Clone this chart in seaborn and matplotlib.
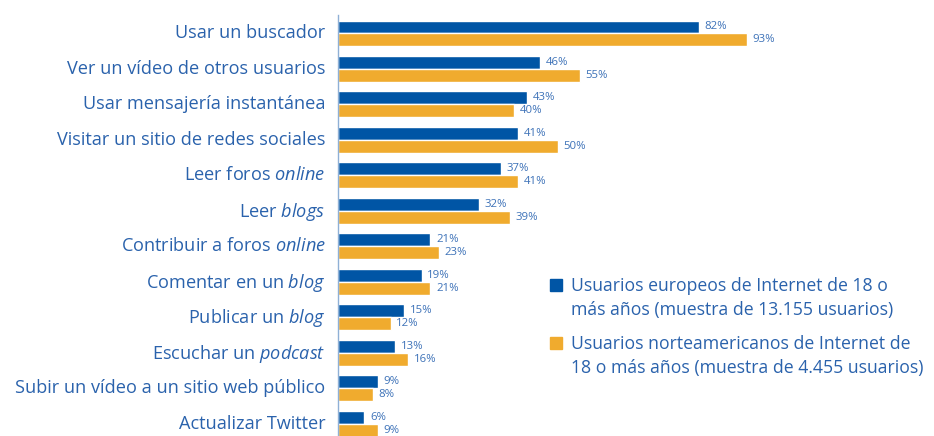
import pandas as pd
import matplotlib.pyplot as plt
import matplotlib.transforms as mtransforms
import seaborn as sns
from matplotlib.patches import Rectangle

# datos
actividades = [
    "Usar un buscador",
    "Ver un vídeo de otros usuarios",
    "Usar mensajería instantánea",
    "Visitar un sitio de redes sociales",
    "Leer foros $\\mathit{online}$",
    "Leer $\\mathit{blogs}$",
    "Contribuir a foros $\\mathit{online}$",
    "Comentar en un $\\mathit{blog}$",
    "Publicar un $\\mathit{blog}$",
    "Escuchar un $\\mathit{podcast}$",
    "Subir un vídeo a un sitio web público",
    "Actualizar Twitter",
]
europa = [82, 46, 43, 41, 37, 32, 21, 19, 15, 13, 9, 6]
norteamerica = [93, 55, 40, 50, 41, 39, 23, 21, 12, 16, 8, 9]
series = [
    "Usuarios europeos de Internet de 18 o\nmás años (muestra de 13.155 usuarios)",
    "Usuarios norteamericanos de Internet de\n18 o más años (muestra de 4.455 usuarios)",
]

df = pd.DataFrame({
    "actividad": actividades * 2,
    "valor": europa + norteamerica,
    "serie": [series[0]] * len(europa) + [series[1]] * len(norteamerica),
})

azul = "#0055A5"
naranja = "#F0AB2E"
texto = "#2A62AC"
colores = [azul, naranja]

sns.set_style("white")
plt.rcParams['font.family'] = ['Open Sans', 'DejaVu Sans']
plt.rcParams['mathtext.fontset'] = 'custom'
plt.rcParams['mathtext.rm'] = 'Open Sans'
plt.rcParams['mathtext.it'] = 'Open Sans:italic'

fig = plt.figure(figsize=(9.34, 4.36), dpi=100)
ax = fig.add_axes([338 / 934, 0.0, (778 - 338) / 934, 1 - 15 / 436])

sns.barplot(data=df, x="valor", y="actividad", hue="serie", orient="h",
            palette=colores, width=0.73, saturation=1, ax=ax,
            legend=False)

for cont in ax.containers:
    ax.bar_label(cont, fmt="%d%%", padding=4, fontsize=8.2, color="#3D72B8")

ax.set_xlim(0, 100)
ax.set_ylim(11.34, -0.52)
ax.set_xlabel("")
ax.set_ylabel("")
ax.set_xticks([])
ax.tick_params(axis="y", length=0, pad=9, labelsize=13.1, labelcolor=texto)
# subir un poco las etiquetas
desplaza = mtransforms.ScaledTranslation(0, 2 / 100, fig.dpi_scale_trans)
for lbl in ax.get_yticklabels():
    lbl.set_transform(lbl.get_transform() + desplaza)
for s in ["top", "right", "bottom"]:
    ax.spines[s].set_visible(False)
ax.spines["left"].set_color("#8FB0D6")
ax.spines["left"].set_linewidth(1)

# leyenda (cuadro alineado con la primera línea)
W, H = 934, 436
for i, (lab, col) in enumerate(zip(series, colores)):
    y0 = 285 + i * 58
    fig.patches.append(Rectangle((550 / W, 1 - (y0 + 6) / H), 12 / W, 12 / H,
                                 transform=fig.transFigure, color=col))
    fig.text(571 / W, 1 - (y0 - 8) / H, lab, ha="left", va="top",
             fontsize=12.7, color=texto, linespacing=1.45)

fig.savefig("out.png", dpi=100)
